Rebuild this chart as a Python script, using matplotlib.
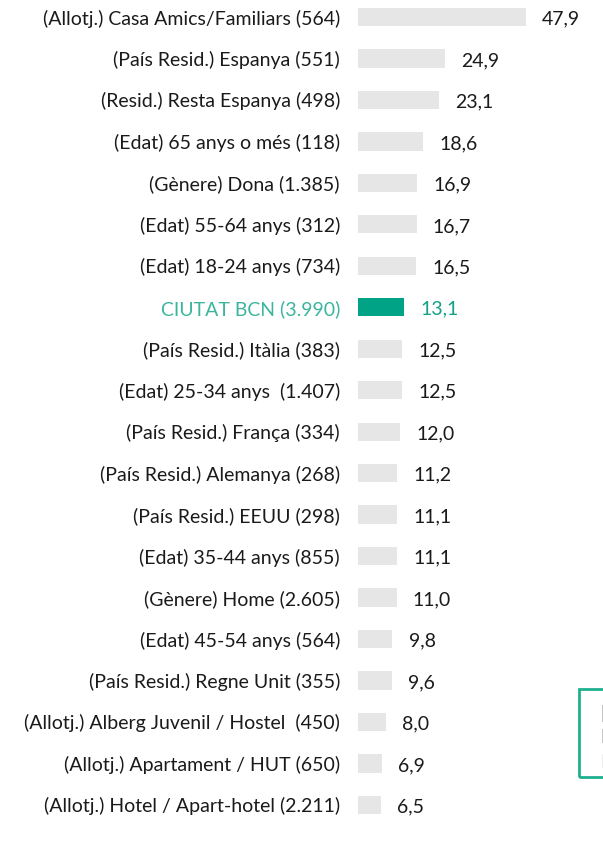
import matplotlib.pyplot as plt
from matplotlib.patches import Rectangle

plt.rcParams['font.family'] = ['Lato', 'DejaVu Sans']

labels = [
    '(Allotj.) Casa Amics/Familiars (564)',
    '(País Resid.) Espanya (551)',
    '(Resid.) Resta Espanya (498)',
    '(Edat) 65 anys o més (118)',
    '(Gènere) Dona (1.385)',
    '(Edat) 55-64 anys (312)',
    '(Edat) 18-24 anys (734)',
    'CIUTAT BCN (3.990)',
    '(País Resid.) Itàlia (383)',
    '(Edat) 25-34 anys  (1.407)',
    '(País Resid.) França (334)',
    '(País Resid.) Alemanya (268)',
    '(País Resid.) EEUU (298)',
    '(Edat) 35-44 anys (855)',
    '(Gènere) Home (2.605)',
    '(Edat) 45-54 anys (564)',
    '(País Resid.) Regne Unit (355)',
    '(Allotj.) Alberg Juvenil / Hostel  (450)',
    '(Allotj.) Apartament / HUT (650)',
    '(Allotj.) Hotel / Apart-hotel (2.211)',
]
values = [47.9, 24.9, 23.1, 18.6, 16.9, 16.7, 16.5, 13.1, 12.5, 12.5,
          12.0, 11.2, 11.1, 11.1, 11.0, 9.8, 9.6, 8.0, 6.9, 6.5]
highlight = 'CIUTAT BCN (3.990)'

note_lines = ['Base', 'Mitjana', 'Font']

W, H = 603, 848
fig = plt.figure(figsize=(W / 100, H / 100), dpi=100)
ax = fig.add_axes([358 / W, 0, 1 - 358 / W, 1])

colors = ['#00A385' if l == highlight else '#E6E6E6' for l in labels]
ypos = range(len(labels))
ax.barh(ypos, values, height=0.44, color=colors)

ax.set_xlim(0, 69.8)
ax.set_ylim(20.04, -0.41)
ax.set_yticks(list(ypos))
ax.set_yticklabels(labels, fontsize=14, color='#1a1a1a')
ax.tick_params(axis='y', length=0, pad=13)
ax.set_xticks([])
for s in ax.spines.values():
    s.set_visible(False)

for t, l in zip(ax.get_yticklabels(), labels):
    if l == highlight:
        t.set_color('#3BB59D')

for i, (l, v) in enumerate(zip(labels, values)):
    c = '#13A085' if l == highlight else '#1a1a1a'
    ax.text(v + 4.6, i + 0.05, f'{v:.1f}'.replace('.', ','), va='center',
            ha='left', fontsize=14, color=c)

# caixa de nota (retallada a la dreta)
fig.patches.append(Rectangle((579 / W, 1 - 777 / H), 40 / W, 88 / H,
                             transform=fig.transFigure, fill=False,
                             edgecolor='#1FB08F', linewidth=2))
fig.text(600.5 / W, 1 - 716 / H, note_lines[0], fontsize=16, fontweight='bold',
         color='#111111', va='center')
fig.text(600.5 / W, 1 - 737 / H, note_lines[1], fontsize=14, color='#222222',
         va='center')
fig.text(600.5 / W, 1 - 762 / H, note_lines[2], fontsize=14, color='#bbbbbb',
         va='center')

fig.savefig('out.png', dpi=100)
